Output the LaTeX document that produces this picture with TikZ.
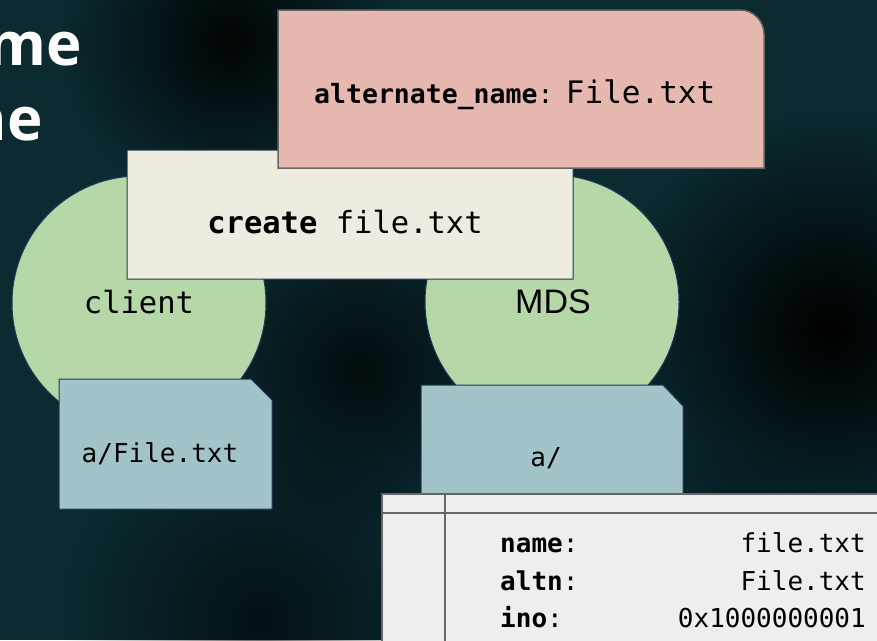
\documentclass[tikz,border=0pt]{standalone}
\usepackage{fontspec}
\usetikzlibrary{fadings}
\setmonofont{DejaVu Sans Mono}
\setsansfont{Liberation Sans}
\newfontfamily\titlefont{Open Sans}
\definecolor{bgcol}{RGB}{11,43,49}
\definecolor{greenfill}{RGB}{182,215,168}
\definecolor{bluefill}{RGB}{162,196,201}
\definecolor{creamfill}{RGB}{238,236,225}
\definecolor{pinkfill}{RGB}{230,184,175}
\definecolor{tablefill}{RGB}{238,238,238}
\definecolor{navyline}{RGB}{28,58,88}
\definecolor{grayline}{RGB}{102,102,102}
\tikzfading[name=spotfade, inner color=transparent!0, outer color=transparent!100]
\tikzset{
  circ/.style={circle, fill=greenfill, draw=navyline, line width=1pt, minimum size=254pt, inner sep=0pt},
  fileshape/.style={fill=bluefill, draw=navyline, line width=1pt},
  msgbox/.style={fill=creamfill, draw=navyline, line width=1pt},
  attrbox/.style={fill=pinkfill, draw=grayline, line width=1.5pt},
  tablebox/.style={fill=tablefill, draw=grayline, line width=1.5pt},
  monotxt/.style={font=\ttfamily\fontsize{30.5}{36}\selectfont, text=black, inner sep=0pt},
  smalltxt/.style={font=\ttfamily\fontsize{26}{31}\selectfont, text=black, inner sep=0pt},
  titletxt/.style={font=\titlefont\bfseries\fontsize{60}{72}\selectfont, text=white, inner sep=0pt},
  darkspot/.style={fill=black, path fading=spotfade},
}
\begin{document}
\begin{tikzpicture}[x=1pt,y=-1pt]
\useasboundingbox (0,0) rectangle (877,640);
\clip (0,0) rectangle (877,640);
\fill[bgcol] (0,0) rectangle (877,640);
\fill[darkspot] (830,330) circle (220);
\fill[darkspot, fill opacity=0.9] (230,40) circle (170);
\fill[darkspot, fill opacity=0.7] (360,370) circle (170);
\fill[darkspot, fill opacity=0.6] (260,620) circle (200);
\fill[darkspot, fill opacity=0.5] (700,620) circle (170);

% title fragments
\node[titletxt, anchor=base east] (t1) at (82,65) {me};
\node[titletxt, anchor=base east] (t2) at (43,140) {ne};

% circles
\node[circ] (client) at (139,303) {};
\node[circ] (mds) at (552,302) {};
\node[monotxt, anchor=base] (clientlbl) at (139,313) {client};
\node[font=\sffamily\fontsize{34}{40}\selectfont, inner sep=0pt, anchor=base] (mdslbl) at (553,313) {MDS};

% file shapes
\draw[fileshape] (59,509) -- (59,379) -- (251,379) -- (272,400) -- (272,509) -- cycle;
\node[smalltxt, anchor=base] (clientfile) at (160,462) {a/File.txt};
\draw[fileshape] (421,500) -- (421,385) -- (663,385) -- (683,406) -- (683,500) -- cycle;
\node[smalltxt, anchor=base] (mdsfile) at (546,466) {a/};

% create message
\draw[msgbox] (127,279) -- (127,150) -- (569,150) .. controls (571.2,150) and (573,151.8) .. (573,154) -- (573,279) -- cycle;
\node[monotxt, anchor=base] (create) at (345,233) {\textbf{create} file.txt};

% alternate name box
\draw[attrbox] (278,168) -- (278,10) -- (740,10) .. controls (753.25,10) and (764,20.75) .. (764,34) -- (764,168) -- cycle;
\node[anchor=base west, inner sep=0pt] (altname) at (314,103) {{\ttfamily\bfseries\fontsize{26.5}{31}\selectfont alternate\_name}{\ttfamily\fontsize{26.5}{31}\selectfont :\hspace{8pt}} {\ttfamily\fontsize{31}{36}\selectfont File.txt}};

% dentry table
\draw[tablebox] (382,494) rectangle (890,660);
\draw[draw=grayline, line width=1.5pt] (382,513) -- (890,513);
\draw[draw=grayline, line width=1.5pt] (445,494) -- (445,660);
\node[smalltxt, anchor=base west] (k1) at (500,552) {\textbf{name}:};
\node[smalltxt, anchor=base west] (k2) at (500,590) {\textbf{altn}:};
\node[smalltxt, anchor=base west] (k3) at (500,627) {\textbf{ino}:};
\node[smalltxt, anchor=base east] (v1) at (866,552) {file.txt};
\node[smalltxt, anchor=base east] (v2) at (866,590) {File.txt};
\node[smalltxt, anchor=base east] (v3) at (866,627) {0x1000000001};
\end{tikzpicture}
\end{document}
